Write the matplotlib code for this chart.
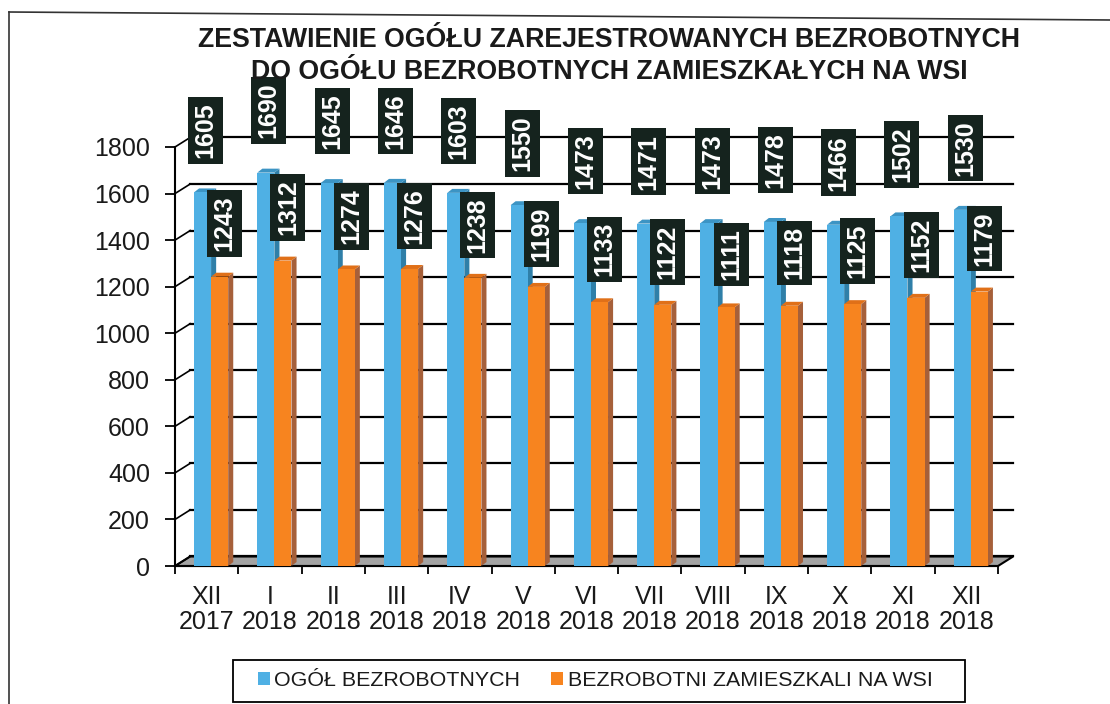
import matplotlib
matplotlib.use("Agg")
import matplotlib.pyplot as plt
from matplotlib.patches import Polygon, Patch, Rectangle
from matplotlib.lines import Line2D
import numpy as np

plt.rcParams['font.family'] = ['Liberation Sans', 'DejaVu Sans']

# data
months = ['XII\n2017', 'I\n2018', 'II\n2018', 'III\n2018', 'IV\n2018', 'V\n2018', 'VI\n2018',
          'VII\n2018', 'VIII\n2018', 'IX\n2018', 'X\n2018', 'XI\n2018', 'XII\n2018']
ogol = [1605, 1690, 1645, 1646, 1603, 1550, 1473, 1471, 1473, 1478, 1466, 1502, 1530]
wies = [1243, 1312, 1274, 1276, 1238, 1199, 1133, 1122, 1111, 1118, 1125, 1152, 1179]
yticks = [0, 200, 400, 600, 800, 1000, 1200, 1400, 1600, 1800]

title = 'ZESTAWIENIE OGÓŁU ZAREJESTROWANYCH BEZROBOTNYCH\nDO OGÓŁU BEZROBOTNYCH ZAMIESZKAŁYCH NA WSI'
legend_labels = ['OGÓŁ BEZROBOTNYCH', 'BEZROBOTNI ZAMIESZKALI NA WSI']

BLUE = '#4fb0e4'
BLUE_SIDE = '#2f7fa8'
BLUE_TOP = '#3c94c4'
ORANGE = '#f7841f'
ORANGE_SIDE = '#a6603a'
ORANGE_TOP = '#e07018'
LABEL_BG = '#15231e'

W, H = 1110, 704
fig = plt.figure(figsize=(W / 100, H / 100), dpi=100)
fig.patch.set_facecolor('white')

# axes placed in pixel terms
left, right, bottom, top = 175, 998, 566, 147
ax = fig.add_axes([left / W, 1 - bottom / H, (right - left) / W, (bottom - top) / H])
ax.set_xlim(-0.5, 12.5)
ax.set_ylim(0, 1800)
ax.patch.set_alpha(0)

# depth of the back wall and of bars, in data units
ddx, ddy = 0.24, 41
bdx, bdy = 0.08, 17

x = np.arange(len(months))
bw = 0.27
xb = x - 0.065
xo = x + 0.205

# floor
floor = Polygon([(-0.5, 0), (12.5, 0), (12.5 + ddx, ddy), (-0.5 + ddx, ddy)],
                closed=True, fc='#a3a3a3', ec='black', lw=1.5, zorder=0.5, clip_on=False)
ax.add_patch(floor)

# back gridlines + side wall diagonals
for v in yticks:
    ax.plot([-0.5 + ddx, 12.5 + ddx], [v + ddy, v + ddy], color='black', lw=1.6, zorder=1, clip_on=False)
    ax.plot([-0.5, -0.5 + ddx], [v, v + ddy], color='black', lw=1.2, zorder=1, clip_on=False)


def bars3d(xc, vals, face, side, topc, z):
    ax.bar(xc, vals, width=bw, color=face, zorder=z, linewidth=0)
    for xi, v in zip(xc, vals):
        x0, x1 = xi - bw / 2, xi + bw / 2
        ax.add_patch(Polygon([(x1, 0), (x1, v), (x1 + bdx, v + bdy), (x1 + bdx, bdy)],
                             closed=True, fc=side, ec='none', zorder=z - 0.1, clip_on=False))
        ax.add_patch(Polygon([(x0, v), (x1, v), (x1 + bdx, v + bdy), (x0 + bdx, v + bdy)],
                             closed=True, fc=topc, ec='none', zorder=z - 0.1, clip_on=False))


bars3d(xb, ogol, BLUE, BLUE_SIDE, BLUE_TOP, 3)
bars3d(xo, wies, ORANGE, ORANGE_SIDE, ORANGE_TOP, 4)

# value labels
for xi, v in zip(xb, ogol):
    ax.annotate(str(v), xy=(xi, v), xytext=(3, 62), textcoords='offset pixels',
                rotation=90, ha='center', va='center', color='white', fontsize=18,
                fontweight='bold',
                bbox=dict(boxstyle='square,pad=0.22', fc=LABEL_BG, ec='none'),
                zorder=6, annotation_clip=False)
for xi, v in zip(xo, wies):
    ax.annotate(str(v), xy=(xi, v), xytext=(5, 53), textcoords='offset pixels',
                rotation=90, ha='center', va='center', color='white', fontsize=18,
                fontweight='bold',
                bbox=dict(boxstyle='square,pad=0.22', fc=LABEL_BG, ec='none'),
                zorder=7, annotation_clip=False)

# axes styling
for s in ['top', 'right']:
    ax.spines[s].set_visible(False)
ax.spines['left'].set_linewidth(1.5)
ax.spines['bottom'].set_linewidth(1.5)
ax.spines['left'].set_zorder(2)
ax.spines['bottom'].set_zorder(2)
ax.set_yticks(yticks)
ax.set_yticklabels([str(v) for v in yticks], fontsize=18, color='#1a1a1a')
ax.set_xticks(np.arange(-0.5, 13, 1), minor=False)
ax.set_xticklabels([])
ax.set_xticks(x, minor=True)
ax.set_xticklabels(months, minor=True, fontsize=18, color='#1a1a1a', linespacing=1.05)
ax.tick_params(axis='x', which='major', length=6, width=1.3, direction='out')
ax.tick_params(axis='x', which='minor', length=0, pad=14)
ax.tick_params(axis='y', length=7, width=1.3, direction='out', pad=11)

# title
fig.text(0.549, 1 - 56 / H, title, ha='center', va='center', fontsize=19.3,
         fontweight='bold', color='#1a1a1a', linespacing=1.3)

# legend: frame drawn separately
fig.add_artist(Rectangle((233 / W, 1 - 702 / H), 732 / W, 42 / H, transform=fig.transFigure,
                         fc='white', ec='black', lw=1.3))
handles = [Patch(fc=BLUE, ec='none'), Patch(fc=ORANGE, ec='none')]
leg = fig.legend(handles, legend_labels, loc='center left', ncol=2,
                 bbox_to_anchor=(258 / W, 1 - 681 / H), frameon=False,
                 fontsize=15.4, handlelength=0.56, handleheight=0.56, handletextpad=0.2,
                 borderpad=0, borderaxespad=0, columnspacing=1.45)
for t in leg.get_texts():
    t.set_color('#1a1a1a')

# scan frame
fig.add_artist(Line2D([9 / W, 1.0], [1 - 12 / H, 1 - 20 / H], color='#333333', lw=1.2))
fig.add_artist(Line2D([9 / W, 9 / W], [1 - 12 / H, 0], color='#333333', lw=1.2))

fig.savefig('out.png', dpi=100)
